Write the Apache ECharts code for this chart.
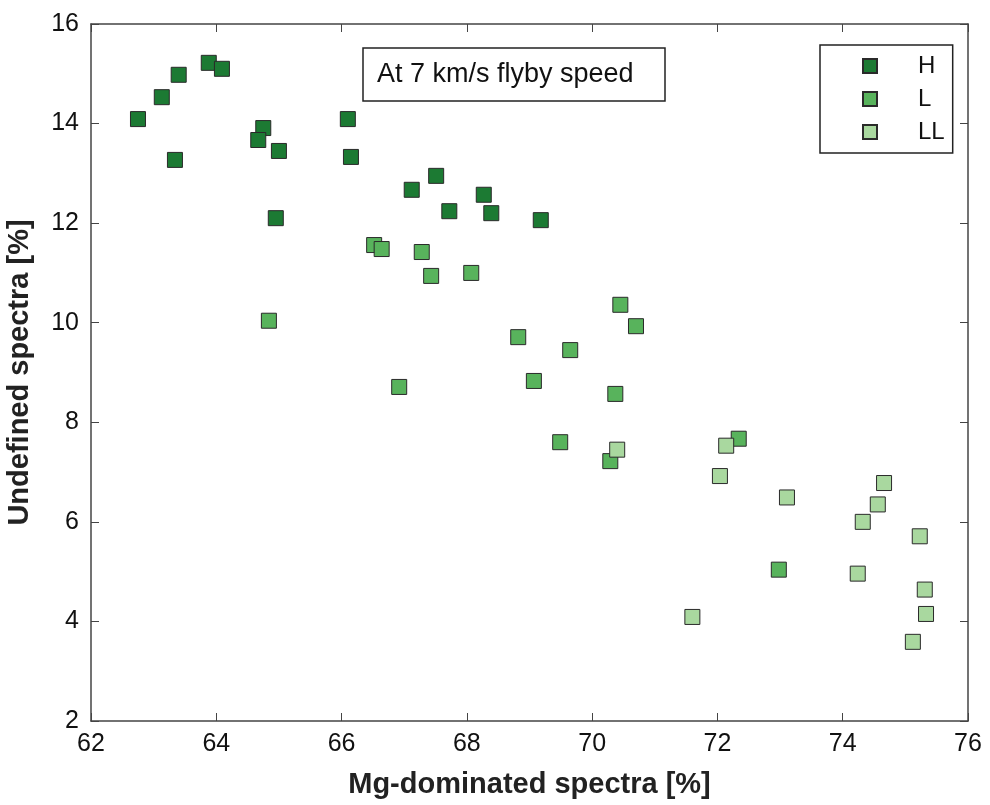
<!DOCTYPE html>
<html lang="en">
<head>
    <meta charset="UTF-8">
    <title>Mg-dominated vs undefined spectra</title>
    <script src="https://cdn.jsdelivr.net/npm/echarts@6/dist/echarts.min.js"></script>
    <style>
        html, body { margin: 0; padding: 0; background: #fff; }
    </style>
</head>
<body>
<div id="main" style="width: 990px;height:805px;"></div>

<script type="text/javascript">
    // [Mg-dominated %, Undefined %]
    var dataH = [
        [62.75, 14.09], [63.13, 14.53], [63.40, 14.98], [63.34, 13.27], [63.88, 15.22],
        [64.09, 15.10], [64.75, 13.91], [64.67, 13.67], [65.00, 13.45], [64.95, 12.10],
        [66.10, 14.09], [66.15, 13.33], [67.12, 12.67], [67.51, 12.95], [67.72, 12.24],
        [68.27, 12.57], [68.39, 12.20], [69.18, 12.06]
    ];
    var dataL = [
        [66.52, 11.56], [66.64, 11.48], [67.28, 11.42], [67.43, 10.94], [68.07, 11.00],
        [64.84, 10.04], [66.92, 8.71], [68.82, 9.71], [69.65, 9.45], [69.07, 8.83],
        [70.45, 10.36], [70.70, 9.93], [70.37, 8.57], [69.49, 7.60], [70.29, 7.22],
        [72.34, 7.67], [72.98, 5.04]
    ];
    var dataLL = [
        [70.40, 7.45], [72.14, 7.53], [72.04, 6.92], [73.11, 6.49], [74.66, 6.78],
        [74.56, 6.35], [74.32, 6.00], [75.23, 5.71], [74.24, 4.96], [75.31, 4.64],
        [75.33, 4.15], [71.60, 4.09], [75.12, 3.59]
    ];
    var seriesNames = ['H', 'L', 'LL'];
    var seriesColors = ['#1c7a33', '#58b35c', '#a9d89f'];

    var myChart = echarts.init(document.getElementById('main'));
    var font = 'Liberation Sans, Arial, sans-serif';
    var axisLine = {lineStyle: {color: '#444', width: 1.5}};

    function makeSeries(name, data, color) {
        return {
            name: name,
            type: 'scatter',
            symbol: 'rect',
            symbolSize: 15,
            data: data,
            itemStyle: {color: color, opacity: 1, borderColor: '#2a2a2a', borderWidth: 1},
            emphasis: {disabled: true}
        };
    }

    var option = {
        animation: false,
        backgroundColor: '#fff',
        grid: {left: 91, right: 22, top: 24, bottom: 84, containLabel: false, outerBoundsMode: 'none'},
        title: {
            text: 'At 7 km/s flyby speed',
            left: 363,
            top: 48,
            padding: [13, 32, 13, 14],
            borderColor: '#222',
            borderWidth: 1.5,
            textStyle: {fontFamily: font, fontSize: 27, fontWeight: 'normal', color: '#111'}
        },
        legend: {
            orient: 'vertical',
            left: 820,
            top: 45,
            padding: [9, 8, 9, 42],
            itemGap: 9,
            itemWidth: 14,
            itemHeight: 14,
            borderColor: '#222',
            borderWidth: 1.5,
            data: seriesNames,
            textStyle: {fontFamily: font, fontSize: 24, color: '#111', padding: [0, 0, 0, 36]}
        },
        xAxis: [{
            type: 'value', min: 62, max: 76, interval: 2,
            name: 'Mg-dominated spectra [%]', nameLocation: 'middle', nameGap: 49,
            nameTextStyle: {fontFamily: font, fontSize: 29, fontWeight: 'bold', color: '#222'},
            axisLine: axisLine,
            axisTick: {inside: true, length: 8, lineStyle: {color: '#444'}},
            axisLabel: {fontFamily: font, fontSize: 25, color: '#111', margin: 11},
            splitLine: {show: false}
        }, {
            type: 'value', min: 62, max: 76, interval: 2, position: 'top',
            axisLine: axisLine,
            axisTick: {inside: true, length: 8, lineStyle: {color: '#444'}},
            axisLabel: {show: false},
            splitLine: {show: false}
        }],
        yAxis: [{
            type: 'value', min: 2, max: 16, interval: 2,
            name: 'Undefined spectra [%]', nameLocation: 'middle', nameGap: 57,
            nameTextStyle: {fontFamily: font, fontSize: 29, fontWeight: 'bold', color: '#222'},
            axisLine: axisLine,
            axisTick: {inside: true, length: 8, lineStyle: {color: '#444'}},
            axisLabel: {fontFamily: font, fontSize: 25, color: '#111', margin: 12},
            splitLine: {show: false}
        }, {
            type: 'value', min: 2, max: 16, interval: 2, position: 'right',
            axisLine: axisLine,
            axisTick: {inside: true, length: 8, lineStyle: {color: '#444'}},
            axisLabel: {show: false},
            splitLine: {show: false}
        }],
        series: [
            makeSeries(seriesNames[0], dataH, seriesColors[0]),
            makeSeries(seriesNames[1], dataL, seriesColors[1]),
            makeSeries(seriesNames[2], dataLL, seriesColors[2])
        ]
    };
    myChart.setOption(option);
</script>
</body>
</html>
